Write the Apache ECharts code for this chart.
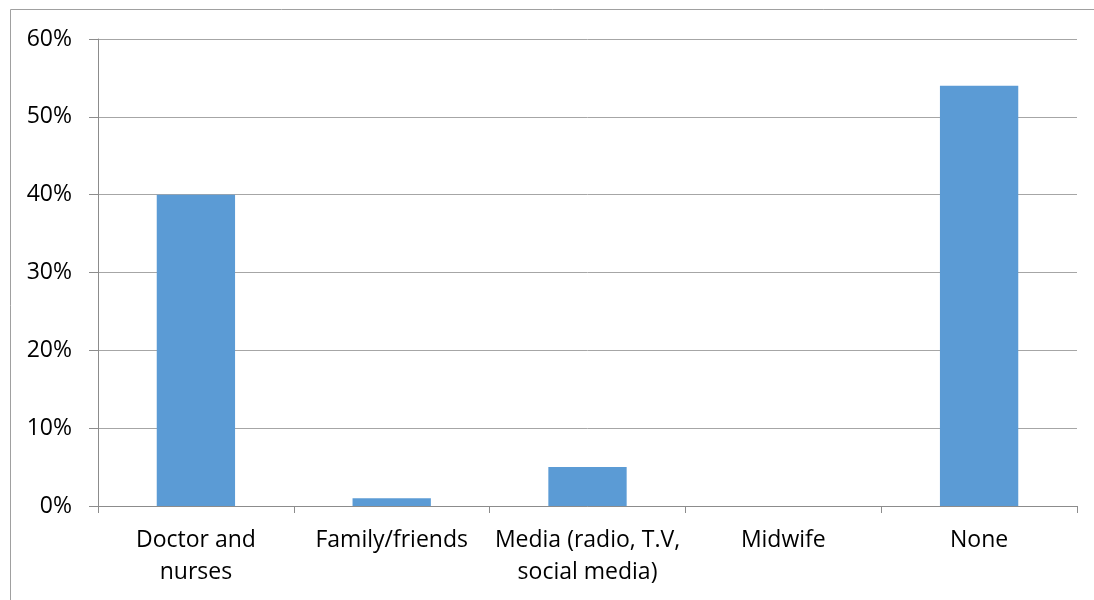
<!DOCTYPE html>
<html><head><meta charset="utf-8">
<script src="https://cdn.jsdelivr.net/npm/echarts@6/dist/echarts.min.js"></script>
<style>html,body{margin:0;padding:0;background:#fff}#c{width:1094px;height:600px}</style>
</head><body><div id="c"></div>
<script>
const categories = ['Doctor and\nnurses', 'Family/friends', 'Media (radio, T.V,\nsocial media)', 'Midwife', 'None'];
const values = [40, 1, 5, 0, 54];
const yTicks = { min: 0, max: 60, interval: 10 };

const chart = echarts.init(document.getElementById('c'));
chart.setOption({
  animation: false,
  textStyle: { fontFamily: 'Open Sans' },
  graphic: [{
    type: 'rect', silent: true,
    shape: { x: 10.5, y: 9.5, width: 1200, height: 700 },
    style: { fill: 'none', stroke: '#a0a0a0', lineWidth: 1 }
  }],
  grid: { left: 98, right: 17, top: 39, bottom: 94 },
  xAxis: {
    type: 'category', data: categories,
    axisLine: { lineStyle: { color: '#8c8c8c', width: 1 } },
    axisTick: { show: true, length: 7, alignWithLabel: false, lineStyle: { color: '#8c8c8c' } },
    axisLabel: { color: '#000', fontSize: 23, lineHeight: 32, margin: 18, interval: 0 }
  },
  yAxis: {
    type: 'value', min: yTicks.min, max: yTicks.max, interval: yTicks.interval,
    axisLine: { show: true, lineStyle: { color: '#8c8c8c', width: 1 } },
    axisTick: { show: true, length: 9, lineStyle: { color: '#8c8c8c' } },
    axisLabel: { color: '#000', fontSize: 23, margin: 26, formatter: v => v + '%' },
    splitLine: { lineStyle: { color: '#a6a6a6', width: 1 } }
  },
  series: [{
    type: 'bar', data: values, barCategoryGap: '60%',
    itemStyle: { color: '#5b9bd5' }
  }]
});
</script></body></html>
